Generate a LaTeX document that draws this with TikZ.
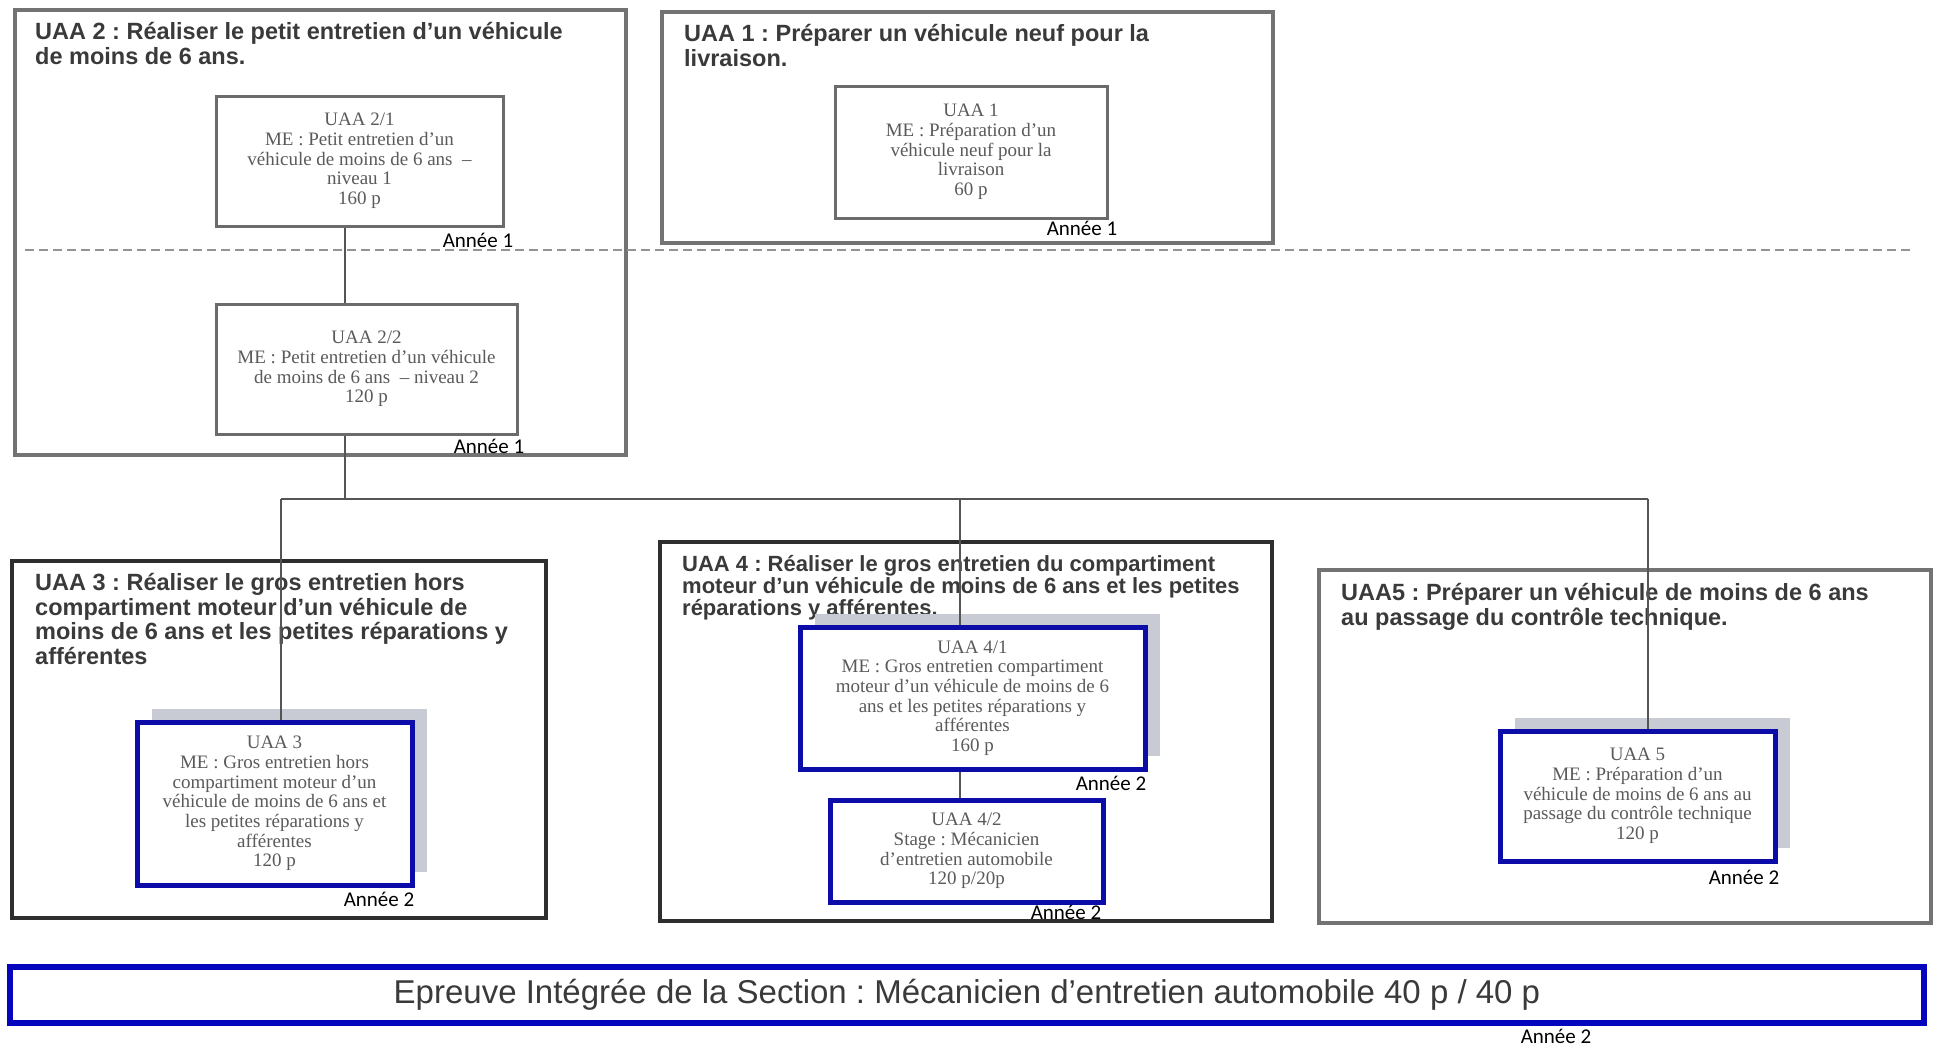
\documentclass[tikz,border=0pt]{standalone}
\usepackage{fontspec}
\setmainfont{Liberation Serif}
\newfontfamily\uaasans{Liberation Sans}
\newfontfamily\anneefont{Carlito}
\usetikzlibrary{shadows}
\frenchspacing
\definecolor{framegray}{HTML}{737373}
\definecolor{framedark}{HTML}{2E2E2E}
\definecolor{innergray}{HTML}{6B6B6B}
\definecolor{uaablue}{HTML}{0C0CA8}
\definecolor{epblue}{HTML}{0505BE}
\definecolor{shadowgray}{HTML}{C8CAD4}
\definecolor{textgray}{HTML}{5A5A5A}
\definecolor{titlegray}{HTML}{3A3A3A}
\definecolor{linegray}{HTML}{555555}
\tikzset{
  uaaframe/.style={draw=framegray, line width=3.5pt, inner sep=0pt},
  uaadark/.style={uaaframe, draw=framedark},
  uaatitle/.style={anchor=north west, inner sep=0pt, align=left, text=titlegray,
    font=\uaasans\bfseries\fontsize{23.5}{24.6}\selectfont},
  megray/.style={draw=innergray, line width=3pt, fill=white, align=center,
    text=textgray, font=\fontsize{19}{19.7}\selectfont, inner sep=0pt},
  meblue/.style={megray, draw=uaablue, line width=5pt},
  meshadow/.style={general shadow={fill=shadowgray, shadow xshift=15pt, shadow yshift=13pt}},
  annee/.style={inner sep=0pt, font=\anneefont\fontsize{21}{24}\selectfont},
  yearline/.style={draw=gray!85, line width=2.5pt, dash pattern=on 9pt off 5pt},
  connector/.style={draw=linegray, line width=1.6pt}
}
\begin{document}
\begin{tikzpicture}[x=1pt, y=-1pt]
  \useasboundingbox (0,0) rectangle (1933,1045);

  \node[uaaframe, minimum width=611pt, minimum height=445pt] (uaa2) at (320.5,232.5) {};
  \node[uaaframe, minimum width=611pt, minimum height=231pt] (uaa1) at (967.5,127.5) {};
  \node[uaadark, minimum width=534pt, minimum height=357pt] (uaa3) at (279,739.5) {};
  \node[uaadark, minimum width=612pt, minimum height=379pt] (uaa4) at (966,731.5) {};
  \node[uaaframe, minimum width=612pt, minimum height=353pt] (uaa5) at (1625,746.5) {};

  \node[uaatitle] (t2) at (35,22) {UAA 2 : Réaliser le petit entretien d’un véhicule\\de moins de 6 ans.};
  \node[uaatitle] (t1) at (684,24.5) {UAA 1 : Préparer un véhicule neuf pour la\\livraison.};
  \node[uaatitle] (t3) at (35,573) {UAA 3 : Réaliser le gros entretien hors\\compartiment moteur d’un véhicule de\\moins de 6 ans et les petites réparations y\\afférentes};
  \node[uaatitle, font=\uaasans\bfseries\fontsize{22}{22.3}\selectfont] (t4) at (682,555)
    {UAA 4 : Réaliser le gros entretien du compartiment\\moteur d’un véhicule de moins de 6 ans et les petites\\réparations y afférentes.};
  \node[uaatitle] (t5) at (1341,583) {UAA5 : Préparer un véhicule de moins de 6 ans\\au passage du contrôle technique.};

  \coordinate (dashL) at (25,250);
  \coordinate (dashR) at (1911,250);
  \draw[yearline] (dashL) -- (dashR);

  \node[megray, minimum width=287pt, minimum height=130pt] (uaa21) at (359.5,161)
    {UAA 2/1\\ME : Petit entretien d’un\\véhicule de moins de 6 ans~ –\\niveau 1\\160 p};
  \node[megray, minimum width=301pt, minimum height=130pt] (uaa22) at (366.5,369)
    {UAA 2/2\\ME : Petit entretien d’un véhicule\\de moins de 6 ans~ – niveau 2\\120 p};
  \node[megray, minimum width=272pt, minimum height=132pt] (uaa11) at (971,152)
    {UAA 1\\ME : Préparation d’un\\véhicule neuf pour la\\livraison\\60 p};
  \node[meblue, meshadow, minimum width=275pt, minimum height=163pt] (uaa31) at (274.5,803.5)
    {UAA 3\\ME : Gros entretien hors\\compartiment moteur d’un\\véhicule de moins de 6 ans et\\les petites réparations y\\afférentes\\120 p};
  \node[meblue, meshadow, minimum width=345pt, minimum height=142pt] (uaa41) at (972.5,698)
    {UAA 4/1\\ME : Gros entretien compartiment\\moteur d’un véhicule de moins de 6\\ans et les petites réparations y\\afférentes\\160 p};
  \node[meblue, minimum width=273pt, minimum height=102pt] (uaa42) at (966.5,851)
    {UAA 4/2\\Stage : Mécanicien\\d’entretien automobile\\120 p/20p};
  \node[meblue, meshadow, minimum width=275pt, minimum height=130pt] (uaa51) at (1637.5,796)
    {UAA 5\\ME : Préparation d’un\\véhicule de moins de 6 ans au\\passage du contrôle technique\\120 p};

  \node[meblue, draw=epblue, line width=5.5pt, minimum width=1914pt, minimum height=56pt,
    text=titlegray, font=\uaasans\fontsize{33}{36}\selectfont] (epreuve) at (967,995)
    {Epreuve Intégrée de la Section : Mécanicien d’entretien automobile 40 p / 40 p};

  \draw
    (478,240) node[annee] (an21){Année 1}
    (489,446) node[annee] (an22){Année 1}
    (1082,228) node[annee] (an11){Année 1}
    (379,899) node[annee] (an31){Année 2}
    (1111,783) node[annee] (an41){Année 2}
    (1066,912) node[annee] (an42){Année 2}
    (1744,877) node[annee] (an51){Année 2}
    (1556,1036) node[annee] (anep){Année 2};

  \coordinate (j2) at (345,499);
  \coordinate (j3) at (281,499);
  \coordinate (j4) at (960,499);
  \coordinate (j5) at (1648,499);
  \begin{scope}[connector]
    \draw (uaa21.south -| j2) to (uaa22.north -| j2);
    \draw (uaa22.south -| j2) to (j2);
    \draw (j3) to (j5);
    \draw (j3) to (uaa31.north -| j3);
    \draw (j4) to (uaa41.north -| j4);
    \draw (uaa41.south -| j4) to (uaa42.north -| j4);
    \draw (j5) to (uaa51.north -| j5);
  \end{scope}
\end{tikzpicture}
\end{document}
